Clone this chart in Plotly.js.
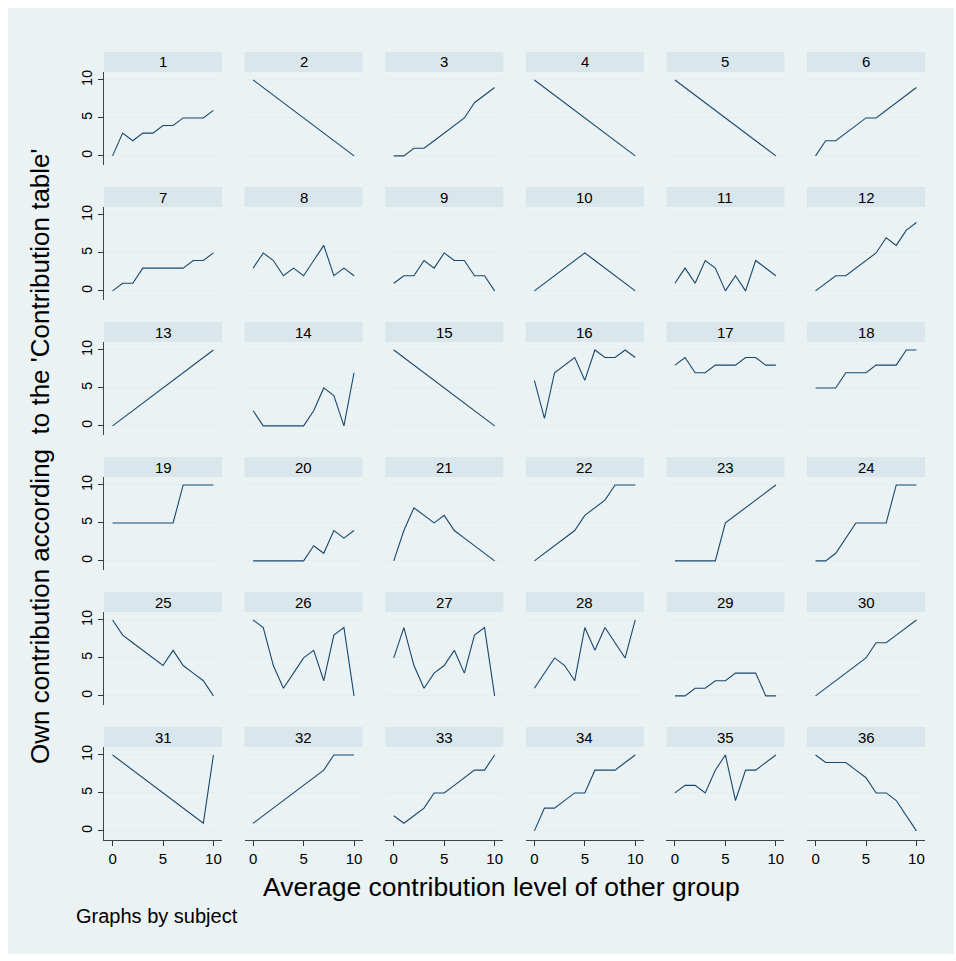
<!DOCTYPE html>
<html>
<head>
<meta charset="utf-8">
<script src="https://cdn.plot.ly/plotly-3.0.1.min.js"></script>
<style>html,body{margin:0;padding:0;background:#fff}</style>
</head>
<body>
<div id="chart" style="width:956px;height:961px"></div>
<script>
// x values: average contribution level of other group
const otherLevel = [0,1,2,3,4,5,6,7,8,9,10];
// subject ids
const subjects = Array.from({length:36},(_,i)=>String(i+1));
// own contribution per subject
const own = [
  [0,3,2,3,3,4,4,5,5,5,6],
  [10,9,8,7,6,5,4,3,2,1,0],
  [0,0,1,1,2,3,4,5,7,8,9],
  [10,9,8,7,6,5,4,3,2,1,0],
  [10,9,8,7,6,5,4,3,2,1,0],
  [0,2,2,3,4,5,5,6,7,8,9],
  [0,1,1,3,3,3,3,3,4,4,5],
  [3,5,4,2,3,2,4,6,2,3,2],
  [1,2,2,4,3,5,4,4,2,2,0],
  [0,1,2,3,4,5,4,3,2,1,0],
  [1,3,1,4,3,0,2,0,4,3,2],
  [0,1,2,2,3,4,5,7,6,8,9],
  [0,1,2,3,4,5,6,7,8,9,10],
  [2,0,0,0,0,0,2,5,4,0,7],
  [10,9,8,7,6,5,4,3,2,1,0],
  [6,1,7,8,9,6,10,9,9,10,9],
  [8,9,7,7,8,8,8,9,9,8,8],
  [5,5,5,7,7,7,8,8,8,10,10],
  [5,5,5,5,5,5,5,10,10,10,10],
  [0,0,0,0,0,0,2,1,4,3,4],
  [0,4,7,6,5,6,4,3,2,1,0],
  [0,1,2,3,4,6,7,8,10,10,10],
  [0,0,0,0,0,5,6,7,8,9,10],
  [0,0,1,3,5,5,5,5,10,10,10],
  [10,8,7,6,5,4,6,4,3,2,0],
  [10,9,4,1,3,5,6,2,8,9,0],
  [5,9,4,1,3,4,6,3,8,9,0],
  [1,3,5,4,2,9,6,9,7,5,10],
  [0,0,1,1,2,2,3,3,3,0,0],
  [0,1,2,3,4,5,7,7,8,9,10],
  [10,9,8,7,6,5,4,3,2,1,10],
  [1,2,3,4,5,6,7,8,10,10,10],
  [2,1,2,3,5,5,6,7,8,8,10],
  [0,3,3,4,5,5,8,8,8,9,10],
  [5,6,6,5,8,10,4,8,8,9,10],
  [10,9,9,9,8,7,5,5,4,2,0]
];
const yTicks = [0,5,10];
const xTicks = [0,5,10];

const W = 956, H = 961;
const FONT = 'Liberation Sans, Arial, sans-serif';
const colLeft0 = 104, colPitch = 140.6, colW = 118;
const stripTop0 = 52, rowPitch = 135, stripH = 20, plotH = 93;

const traces = [];
const layout = {
  width: W, height: H,
  margin: {l:0,r:0,t:0,b:0},
  paper_bgcolor: '#ffffff',
  plot_bgcolor: '#ffffff',
  showlegend: false,
  font: {family: FONT, color: '#000'},
  shapes: [], annotations: []
};
// outer graph region
layout.shapes.push({type:'rect', xref:'paper', yref:'paper', x0:8/W, x1:954/W, y0:1-954/H, y1:1-8/H,
  fillcolor:'#eaf2f3', line:{width:0}, layer:'below'});

subjects.forEach((s, i) => {
  const r = Math.floor(i/6), c = i%6;
  const left = colLeft0 + c*colPitch, right = left + colW;
  const sTop = stripTop0 + r*rowPitch, pTop = sTop + stripH, pBot = pTop + plotH;
  const n = i+1;
  const xa = 'xaxis' + (n===1?'':n), ya = 'yaxis' + (n===1?'':n);
  traces.push({
    x: otherLevel, y: own[i], type:'scatter', mode:'lines',
    xaxis: 'x' + (n===1?'':n), yaxis: 'y' + (n===1?'':n),
    line: {color:'#1a476f', width:1.1}, hoverinfo:'skip'
  });
  const isLeft = c===0, isBottom = r===5;
  layout[xa] = {
    domain:[left/W, right/W], anchor:'y'+(n===1?'':n),
    range:[-0.85,10.85], showgrid:false, zeroline:false,
    tickvals: xTicks, showticklabels: isBottom, ticks: isBottom?'outside':'',
    ticklen: 5, tickcolor:'#333', showline: isBottom, linecolor:'#444', linewidth:1,
    tickfont:{size:15, family:FONT, color:'#000'}, fixedrange:true
  };
  layout[ya] = {
    domain:[1-pBot/H, 1-pTop/H], anchor:'x'+(n===1?'':n),
    range:[-1.2,11.05], showgrid:true, gridcolor:'#e4eef0', gridwidth:1, zeroline:false,
    tickvals: yTicks, showticklabels: isLeft, ticks: isLeft?'outside':'',
    ticklen: 5, tickcolor:'#333', showline: isLeft, linecolor:'#444', linewidth:1,
    tickangle: -90,
    tickfont:{size:14, family:FONT, color:'#000'}, fixedrange:true
  };
  layout.shapes.push({type:'rect', xref:'paper', yref:'paper',
    x0:left/W, x1:right/W, y0:1-pTop/H, y1:1-sTop/H,
    fillcolor:'#d9e6eb', line:{width:0}});
  layout.annotations.push({xref:'paper', yref:'paper', x:(left+right)/2/W, y:1-(sTop+stripH/2)/H,
    text:s, showarrow:false, xanchor:'center', yanchor:'middle',
    font:{size:15, family:FONT, color:'#000'}});
});

layout.annotations.push({xref:'paper', yref:'paper', x:40/W, y:1-456/H,
  text:"Own contribution according  to the 'Contribution table'", textangle:-90,
  showarrow:false, xanchor:'center', yanchor:'middle',
  font:{size:26, family:FONT, color:'#000'}});
layout.annotations.push({xref:'paper', yref:'paper', x:502/W, y:1-887/H,
  text:'Average contribution level of other group',
  showarrow:false, xanchor:'center', yanchor:'middle',
  font:{size:26.5, family:FONT, color:'#000'}});
layout.annotations.push({xref:'paper', yref:'paper', x:74/W, y:1-916/H,
  text:'Graphs by subject',
  showarrow:false, xanchor:'left', yanchor:'middle',
  font:{size:20, family:FONT, color:'#000'}});

Plotly.newPlot('chart', traces, layout, {displayModeBar:false, staticPlot:true});
</script>
</body>
</html>
